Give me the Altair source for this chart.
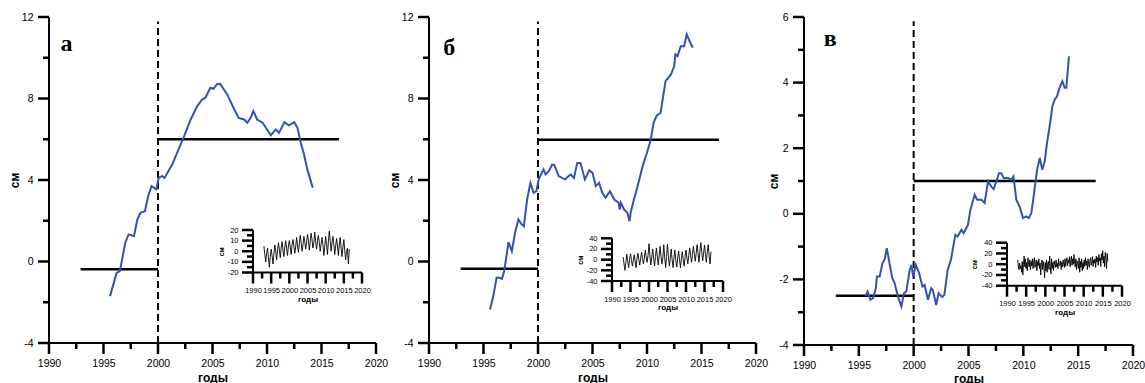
import altair as alt
import pandas as pd

FONT = "'Liberation Sans Narrow', 'Liberation Sans', Arial, sans-serif"
SERIF = "'Liberation Serif', 'Times New Roman', serif"
BLUE = "#3352b3"

# ---------------- main series ----------------
a_years = [1995.6, 1996.2, 1996.5, 1997.0, 1997.3, 1997.8, 1998.1, 1998.4, 1998.8, 1999.1,
           1999.4, 1999.85, 2000.06, 2000.4, 2000.6, 2001.3, 2001.75, 2002.4, 2003.0, 2003.6,
           2004.05, 2004.35, 2004.8, 2005.1, 2005.4, 2005.7, 2006.35, 2007.0, 2007.4, 2007.9,
           2008.2, 2008.5, 2008.75, 2009.1, 2009.6, 2010.0, 2010.35, 2010.8, 2011.1, 2011.6,
           2012.0, 2012.5, 2012.8, 2013.1, 2013.4, 2013.7, 2014.2]
a_values = [-1.70, -0.56, -0.47, 0.92, 1.33, 1.24, 2.06, 2.39, 2.47, 3.2,
            3.7, 3.54, 4.1, 4.2, 4.1, 4.76, 5.33, 6.15, 6.97, 7.63,
            7.95, 8.04, 8.53, 8.48, 8.7, 8.72, 8.2, 7.46, 7.05, 6.97,
            6.81, 7.05, 7.38, 6.97, 6.81, 6.48, 6.19, 6.48, 6.32, 6.84,
            6.68, 6.84, 6.56, 5.83, 5.25, 4.52, 3.62]

b_years = [1995.6, 1995.9, 1996.2, 1996.5, 1996.7, 1996.9, 1997.15, 1997.3, 1997.6, 1997.9,
           1998.2, 1998.5, 1998.7, 1999.0, 1999.3, 1999.6, 1999.85, 2000.06, 2000.5, 2000.7,
           2001.0, 2001.3, 2001.5, 2001.9, 2002.2, 2002.5, 2002.8, 2003.0, 2003.3, 2003.6,
           2003.9, 2004.3, 2004.7, 2005.0, 2005.3, 2005.6, 2005.9, 2006.2, 2006.6, 2007.0,
           2007.4, 2007.5, 2007.6, 2007.9, 2008.2, 2008.4, 2008.5, 2008.8, 2009.1, 2009.6,
           2010.0, 2010.35, 2010.6, 2010.9, 2011.25, 2011.7, 2012.2, 2012.5, 2012.6, 2012.8,
           2013.1, 2013.4, 2013.65, 2013.9, 2014.2]
b_values = [-2.36, -1.70, -0.80, -0.80, -0.85, -0.47, 0.43, 0.95, 0.51, 1.41,
            2.06, 1.82, 1.73, 3.04, 3.86, 3.37, 3.45, 4.03, 4.52, 4.27,
            4.44, 4.76, 4.73, 4.19, 4.10, 4.03, 4.19, 4.27, 4.10, 4.84,
            4.84, 4.03, 4.48, 4.35, 3.70, 3.86, 3.37, 3.13, 3.45, 3.04,
            2.88, 2.55, 2.88, 2.55, 2.39, 1.98, 2.39, 3.04, 3.62, 4.68,
            5.34, 5.99, 6.81, 7.17, 7.30, 8.85, 9.18, 9.59, 10.16, 10.08,
            10.57, 10.57, 11.15, 10.82, 10.49]

c_years = [1995.6, 1995.8, 1996.05, 1996.3, 1996.55, 1996.65, 1996.9, 1997.15, 1997.35, 1997.55,
           1997.8, 1998.05, 1998.27, 1998.57, 1998.88, 1999.12, 1999.33, 1999.64, 1999.8, 1999.95,
           2000.2, 2000.5, 2000.8, 2001.0, 2001.3, 2001.6, 2001.75, 2002.05, 2002.27, 2002.6,
           2002.8, 2003.1, 2003.4, 2003.8, 2004.0, 2004.35, 2004.56, 2004.95, 2005.17, 2005.56,
           2005.78, 2006.17, 2006.47, 2006.78, 2007.08, 2007.3, 2007.54, 2007.78, 2008.0, 2008.2,
           2008.6, 2008.9, 2009.1, 2009.36, 2009.66, 2009.97, 2010.27, 2010.5, 2010.73, 2010.94,
           2011.25, 2011.5, 2011.73, 2011.95, 2012.16, 2012.4, 2012.65, 2012.86, 2013.07, 2013.3,
           2013.56, 2013.77, 2013.92, 2014.16]
c_values = [-2.52, -2.37, -2.62, -2.57, -2.27, -1.91, -1.91, -1.51, -1.40, -1.05,
            -1.51, -1.96, -2.12, -2.52, -2.83, -2.42, -2.37, -1.71, -1.56, -1.91,
            -1.56, -1.81, -2.22, -2.17, -2.62, -2.27, -2.32, -2.78, -2.42, -2.54,
            -2.47, -1.71, -1.40, -0.64, -0.69, -0.49, -0.59, -0.34, 0.12, 0.58,
            0.43, 0.43, 0.33, 0.99, 0.83, 0.75, 0.99, 1.24, 1.24, 1.09,
            1.09, 1.04, 1.14, 0.43, 0.22, -0.13, -0.08, -0.13, 0.02, 0.53,
            1.34, 1.70, 1.34, 1.60, 2.16, 2.67, 3.28, 3.48, 3.58, 3.84,
            4.04, 3.84, 3.84, 4.80]

# mean levels (left segment 1993-2000, right segment 2000-2016.6)
seg_start = [1992.9, 2000.0]
seg_end = [2000.0, 2016.6]
a_levels = [-0.38, 6.0]
b_levels = [-0.35, 5.97]
c_levels = [-2.5, 1.0]

letters = ["а", "б", "в"]
letter_x = [1991.6, 1991.85, 1992.4]
letter_y = [10.66, 10.46, 5.33]

# ---------------- inset series ----------------
ia_start, ia_step = 1993.0, 0.25
ia_values = [5, -3, -10, -2, 3, -6, -15, -5, 2, -4, -12, -3, 6, 0, -8, 1,
             8, 2, -6, 3, 9, 1, -5, 4, 10, 3, -4, 5, 10, 4, -3, 6,
             11, 5, -2, 4, 13, 6, -1, 7, 15, 8, 0, 6, 14, 9, 2, 8,
             16, 10, 1, 9, 17, 11, 3, 8, 18, 9, 2, 10, 15, 8, 0, 7,
             13, 6, -4, 5, 14, 7, -3, 9, 19, 10, 0, 8, 14, 6, -3, 5,
             12, 5, -4, 6, 13, 3, -5, 4, 11, 1, -8, 0, 3, -12, 2]

ib_start, ib_step = 1993.0, 0.25
ib_values = [5, -8, -20, -5, 10, -2, -15, 0, 11, 0, -12, -2, 9, -3, -15, 2,
             12, 0, -10, 3, 14, 2, -8, 5, 18, 5, -5, 8, 30, 8, -10, 5,
             20, 3, -12, 6, 22, 5, -10, 8, 25, 6, -8, 4, 28, 3, -15, 6,
             29, 5, -12, 2, 20, 0, -15, 4, 18, -2, -14, 3, 16, 0, -15, 2,
             15, 0, -12, 5, 18, 3, -8, 8, 22, 8, -5, 10, 25, 10, -3, 12,
             28, 12, -5, 15, 32, 15, -2, 12, 27, 10, -5, 14, 28, 8, -8, 15]

ic_start, ic_step = 1992.8, 1 / 6
ic_values = [8, -5, -10, 2, -8, -3, -15, 5, -20, 0, 15, -5,
             10, -8, 3, -12, 12, 0, -5, 8, -10, 5, -3, 10,
             -8, 3, 12, -6, 0, 8, -12, 5, -3, 10, -8, 2,
             -20, 0, 8, -10, 5, -5, -25, 3, -12, 8, -15, 2,
             5, -10, 15, -5, -18, 10, -8, 3, -12, 6, 0, -6,
             8, -5, 2, -8, 10, -3, -2, 6, -10, 4, -5, 8,
             0, -6, 10, -4, 5, 12, -3, 8, 2, 14, -5, 6,
             15, -2, 10, 0, 18, 4, -5, 10, -10, 6, 2, -8,
             12, -15, 5, -6, 10, -12, 3, -8, 8, -4, 12, -2,
             6, -10, 10, 0, -6, 8, 12, -2, 5, 14, -4, 8,
             2, 10, -6, 15, 4, 12, -2, 18, 6, 12, -4, 20,
             8, 25, 2, 15, -5, 22, 10, -8, 20, 5]

YEAR_MAJOR = [1990, 1995, 2000, 2005, 2010, 2015, 2020]
YEAR_MINOR = [1992.5, 1997.5, 2002.5, 2007.5, 2012.5, 2017.5]
H = 383
MINUS_FIX = "replace(datum.label, '\u2212', '-')"
MAJOR_LEN, MINOR_LEN = 11, 6   # tick lengths in pixels


def label_axis(orient, offset, values, lsize, tsize, lpad, title, tx, ty):
    kw = dict(orient=orient, offset=offset, values=values, ticks=False,
              domain=False, grid=False,
              labelFlush=False, labelOverlap=False, labelFont=FONT, labelFontSize=lsize,
              labelPadding=lpad, labelColor="black", titleFont=FONT, titleFontSize=tsize,
              titleFontWeight="bold", titleColor="black", title=title,
              titleX=tx, titleY=ty, titleAlign="center", titleBaseline="middle")
    if orient == "bottom":
        kw["format"] = "d"
    else:
        kw["labelExpr"] = MINUS_FIX
    return alt.Axis(**kw)


def panel(x_rng, y_dom, y_rng, y_major, y_minor, label_spec, titles, payload):
    x0, x1 = x_rng
    yb, yt = y_rng
    ymin, ymax = y_dom
    ppx = (x1 - x0) / 30.0
    ppy = (yb - yt) / (ymax - ymin)
    # scales extended by the tick length so the tick marks stay inside the domain
    xs = alt.Scale(domain=[1990 - MAJOR_LEN / ppx, 2020], range=[x0 - MAJOR_LEN, x1],
                   nice=False, zero=False)
    ys = alt.Scale(domain=[ymin - MAJOR_LEN / ppy, ymax], range=[yb + MAJOR_LEN, yt],
                   nice=False, zero=False)
    lsize, tsize, xlp, ylp, ytsize = label_spec
    xt_y, yt_x = titles   # page positions of the axis titles
    ax = label_axis("bottom", yb - H, YEAR_MAJOR, lsize, tsize, xlp, "годы",
                    (x0 + x1) / 2.0, xt_y - yb)
    ay = label_axis("left", -x0, y_major, lsize, ytsize, ylp, "см",
                    yt_x - x0, (yb + yt) / 2.0)
    X = lambda f: alt.X(f, scale=xs, axis=ax)
    Y = lambda f: alt.Y(f, scale=ys, axis=ay)

    # axis lines
    axis_lines = alt.Chart(pd.DataFrame({"x": [1990, 1990], "x2": [2020, 1990],
                                         "y": [ymin, ymin], "y2": [ymin, ymax]})).mark_rule(
        color="black", strokeWidth=2).encode(x=X("x:Q"), x2="x2:Q", y=Y("y:Q"), y2="y2:Q")
    # tick marks
    rx, rx2, ry, ry2 = [], [], [], []
    for vals, ln in [(YEAR_MAJOR, MAJOR_LEN), (YEAR_MINOR, MINOR_LEN)]:
        for v in vals:
            rx.append(v); rx2.append(v); ry.append(ymin); ry2.append(ymin - ln / ppy)
    for vals, ln in [(y_major, MAJOR_LEN), (y_minor, MINOR_LEN)]:
        for v in vals:
            rx.append(1990); rx2.append(1990 - ln / ppx); ry.append(v); ry2.append(v)
    ticks = alt.Chart(pd.DataFrame({"x": rx, "x2": rx2, "y": ry, "y2": ry2})).mark_rule(
        color="black", strokeWidth=2.5).encode(x=X("x:Q"), x2="x2:Q", y=Y("y:Q"), y2="y2:Q")
    return alt.layer(*[build(X, Y) for build in payload], axis_lines, ticks)


def main_panel(years, values, levels, letter, lx, ly, dash_top,
               x_rng, y_dom, y_rng, y_major, y_minor, titles):
    def dash(X, Y):
        return alt.Chart(pd.DataFrame({"x": [2000.0], "y0": [y_dom[0]], "y1": [dash_top]})).mark_rule(
            color="black", strokeWidth=2, strokeDash=[7, 4]).encode(
            x=X("x:Q"), y=Y("y0:Q"), y2="y1:Q")

    def segs(X, Y):
        return alt.Chart(pd.DataFrame({"x": seg_start, "x2": seg_end, "y": levels})).mark_rule(
            color="black", strokeWidth=2.5).encode(x=X("x:Q"), x2="x2:Q", y=Y("y:Q"))

    def line(X, Y):
        return alt.Chart(pd.DataFrame({"year": years, "value": values})).mark_line(
            color=BLUE, strokeWidth=2).encode(x=X("year:Q"), y=Y("value:Q"))

    def lab(X, Y):
        return alt.Chart(pd.DataFrame({"x": [lx], "y": [ly], "t": [letter]})).mark_text(
            font=SERIF, fontSize=24, fontWeight="bold", color="black", baseline="middle",
            align="center").encode(x=X("x:Q"), y=Y("y:Q"), text="t:N")

    return panel(x_rng, y_dom, y_rng, y_major, y_minor,
                 (10.5, 12, 15, 16, 12), titles, [dash, segs, line, lab])


def inset(start, step, values, x_rng, y_dom, y_rng, y_major, y_minor, titles):
    df = pd.DataFrame({"year": [start + i * step for i in range(len(values))],
                       "value": values})

    def line(X, Y):
        return alt.Chart(df).mark_line(color="black", strokeWidth=0.9).encode(
            x=X("year:Q"), y=Y("value:Q"))

    return panel(x_rng, y_dom, y_rng, y_major, y_minor,
                 (7.5, 8, 14, 15, 7), titles, [line])


layers = [
    main_panel(a_years, a_values, a_levels, letters[0], letter_x[0], letter_y[0], 11.78,
               [49, 376], [-4, 12], [343, 17], [-4, 0, 4, 8, 12], [-2, 2, 6, 10], (377, 14.5)),
    main_panel(b_years, b_values, b_levels, letters[1], letter_x[1], letter_y[1], 11.78,
               [429, 756], [-4, 12], [343, 17], [-4, 0, 4, 8, 12], [-2, 2, 6, 10], (377, 394)),
    main_panel(c_years, c_values, c_levels, letters[2], letter_x[2], letter_y[2], 5.87,
               [804, 1133], [-4, 6], [345, 17], [-4, -2, 0, 2, 4, 6], [-3, -1, 1, 3, 5], (378, 773)),
    inset(ia_start, ia_step, ia_values, [253, 362], [-20, 20], [272.5, 230],
          [-20, -10, 0, 10, 20], [-15, -5, 5, 15], (299.5, 221.5)),
    inset(ib_start, ib_step, ib_values, [612, 723], [-40, 40], [281, 238.3],
          [-40, -20, 0, 20, 40], [-30, -10, 10, 30], (307.5, 580.5)),
    inset(ic_start, ic_step, ic_values, [1007, 1122], [-40, 40], [285.7, 242.7],
          [-40, -20, 0, 20, 40], [-30, -10, 10, 30], (312.5, 974.5)),
]

chart = alt.layer(*layers).resolve_scale(x="independent", y="independent").properties(
    width=1145, height=383, padding=0, autosize=alt.AutoSizeParams(type="none"),
    background="white"
).configure_view(stroke=None)

chart.save("out.html", embed_options={"renderer": "svg", "actions": False})
